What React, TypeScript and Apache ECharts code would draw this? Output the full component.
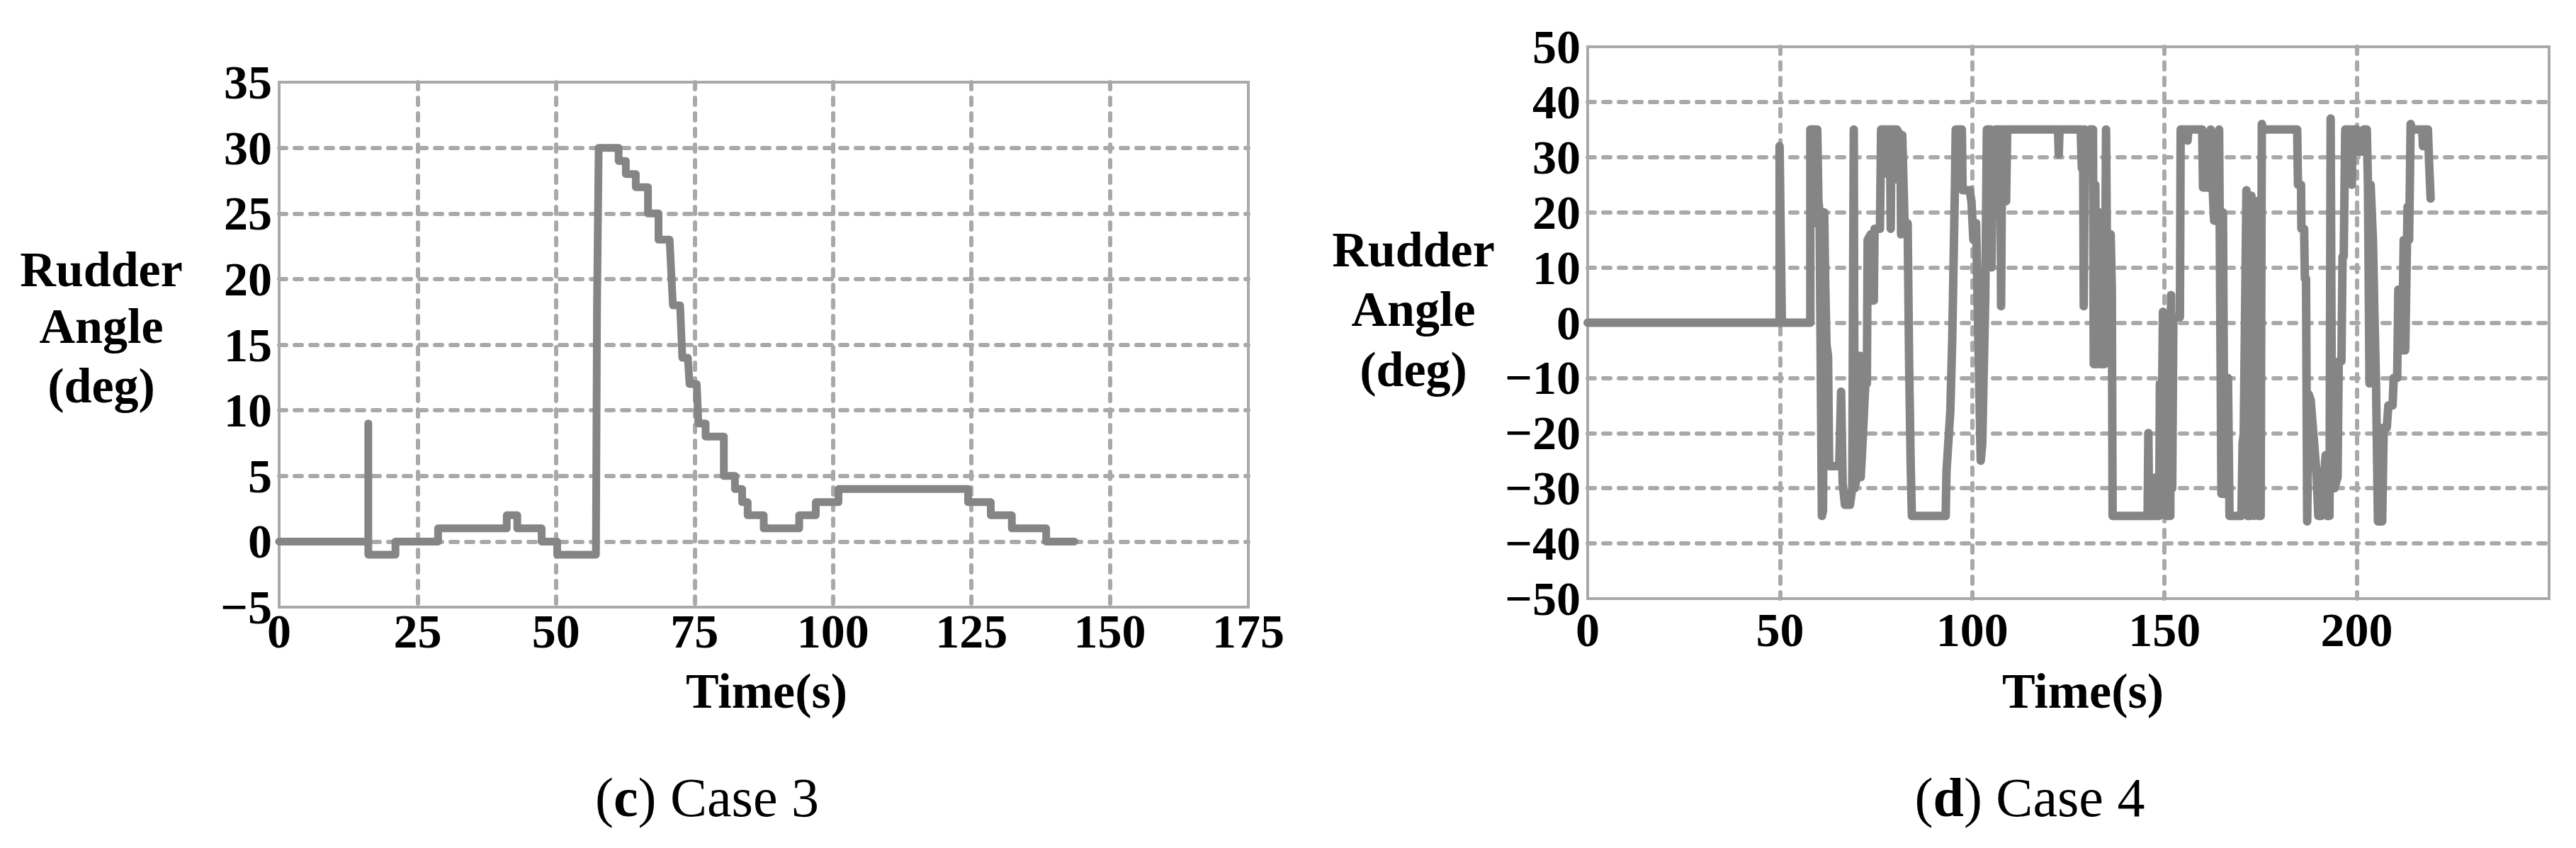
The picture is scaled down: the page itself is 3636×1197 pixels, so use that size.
import React, { useEffect, useRef } from "react";
import * as echarts from "echarts";

const FONT = '"Liberation Serif", "Times New Roman", serif';

// ---- Case 3 data (time s, rudder angle deg) ----
const caseC: [number, number][] = [
  [0, 0], [16.1, 0], [16.1, 9], [16.1, -1], [21.0, -1], [21.0, 0], [28.7, 0], [28.7, 1],
  [41.1, 1], [41.1, 2], [43.0, 2], [43.0, 1], [47.4, 1], [47.4, 0], [50.2, 0], [50.2, -1],
  [57.2, -1], [57.4, 18], [57.7, 30], [61.3, 30], [61.3, 29], [62.6, 29], [62.6, 28],
  [64.4, 28], [64.4, 27], [66.6, 27], [66.6, 25], [68.5, 25], [68.5, 23], [70.5, 23],
  [71.1, 18], [72.4, 18], [72.8, 14], [73.8, 14], [74.1, 12], [75.4, 12], [75.7, 9],
  [77.0, 9], [77.0, 8], [80.3, 8], [80.3, 5], [82.3, 5], [82.3, 4], [83.6, 4], [83.6, 3],
  [84.6, 3], [84.6, 2], [87.5, 2], [87.5, 1], [93.9, 1], [93.9, 2], [96.9, 2], [96.9, 3],
  [101.0, 3], [101.0, 4], [124.4, 4], [124.4, 3], [128.5, 3], [128.5, 2], [132.3, 2],
  [132.3, 1], [138.5, 1], [138.5, 0], [143.6, 0],
];

// ---- Case 4 data (time s, rudder angle deg) ----
const caseD: [number, number][] = [
  [0, 0], [49.9, 0], [49.9, 32], [50.4, 5], [50.5, 0], [57.9, 0], [57.9, 35], [59.3, 35],
  [59.5, 18], [59.7, 35], [60.0, 22], [60.3, 20], [60.9, -35], [61.2, -34], [61.5, 20],
  [61.8, 6], [62.1, -4], [62.5, -6], [62.8, -26], [65.4, -26], [65.9, -12.5], [66.3, -29],
  [66.9, -33], [68.2, -33], [68.8, -30], [69.2, 35], [69.4, -30], [70.0, -28], [70.3, -8],
  [70.8, -6], [71.0, -28], [71.6, -20], [72.2, -11], [72.6, -11], [72.8, 15], [73.6, 16],
  [73.9, 4], [74.4, 4], [74.6, 17], [76.0, 17], [76.3, 35], [77.5, 35], [77.7, 27],
  [77.9, 35], [78.6, 35], [78.8, 17], [79.0, 35], [80.0, 35], [80.2, 26], [80.4, 35],
  [81.3, 34], [81.5, 16], [81.8, 34], [82.4, 18], [83.2, 18], [83.6, -8], [84.0, -26],
  [84.3, -35], [93.1, -35], [93.3, -27], [94.3, -16], [94.8, -3], [95.5, 25], [95.7, 35],
  [97.3, 35], [97.5, 24], [99.3, 24], [99.8, 22], [100.3, 15], [101.0, 18], [102.2, -25],
  [102.6, -22], [103.4, 5], [103.8, 35], [104.8, 35], [105.0, 10], [105.4, 30], [106.0, 35],
  [107.3, 35], [107.5, 3], [107.8, 35], [108.6, 35], [108.8, 22], [109.1, 35], [122.3, 35],
  [122.5, 30.5], [122.7, 35], [128.2, 35], [128.5, 28], [128.8, 35], [129.0, 3], [129.3, 35],
  [130.2, 28], [130.6, 35], [131.4, 35], [131.6, -7.5], [132.0, 25], [132.4, -7.5],
  [133.0, 20], [133.4, -7.5], [134.4, -7.5], [134.8, 35], [135.0, 16], [136.0, 16],
  [136.3, 6], [136.5, -35], [145.6, -35], [145.8, -20], [146.0, -35], [147.6, -35],
  [147.8, -28], [148.0, -35], [148.6, -35], [148.8, -11], [149.4, -11], [149.6, 2],
  [150.0, -20], [150.5, -35], [151.5, -35], [151.7, 5], [152.0, -30], [152.3, 1], [154.0, 1],
  [154.2, 35], [155.8, 35], [156.0, 33], [156.2, 35], [159.8, 35], [160.0, 24.5],
  [161.8, 24.5], [162.0, 35], [162.5, 24.5], [162.9, 18.5], [163.8, 18.5], [164.2, 35],
  [164.8, -31], [165.2, 20], [165.6, -31], [166.5, -10], [166.9, -35], [170.0, -35],
  [170.3, -22], [170.6, -20], [171.3, 24], [171.6, -35], [172.2, -35], [172.6, 23],
  [172.9, -20], [173.3, -35], [174.0, 22], [174.4, -35], [175.0, -35], [175.3, 36],
  [175.6, 35], [184.5, 35], [184.7, 25], [185.5, 25], [185.6, 17], [186.3, 17], [186.5, 8],
  [186.8, 8], [187.1, -36], [187.5, -13], [188.0, -14], [189.5, -27], [190.0, -35],
  [190.8, -35], [191.0, -27], [191.6, -27], [191.9, -24], [192.3, -35], [192.9, -35],
  [193.2, 37], [193.6, -30], [194.2, -30], [195.0, -28], [195.3, -7], [196.0, -7],
  [196.3, 12], [196.6, 12], [196.8, 24], [197.0, 35], [198.5, 35], [198.7, 25], [198.9, 35],
  [200.0, 35], [200.3, 31], [201.5, 31], [201.8, 35], [202.6, 35], [202.9, 25], [203.3, -11],
  [203.6, 25], [204.2, 15], [204.6, 1], [205.0, -11], [205.5, -36], [206.6, -36],
  [207.0, -19], [207.8, -19], [208.2, -15], [209.3, -15], [209.6, -10], [210.5, -10],
  [210.8, 6], [211.0, -5], [211.8, -5], [212.2, 15], [212.6, -5], [213.2, 21], [213.6, 15],
  [214.0, 36], [214.4, 35], [217.0, 35], [217.2, 32], [217.5, 35], [218.5, 35], [218.8, 29],
  [219.2, 22.5],
];

// ---- Axis ticks ----
const caseCXTicks = [0, 25, 50, 75, 100, 125, 150, 175];
const caseCYTicks = [-5, 0, 5, 10, 15, 20, 25, 30, 35];
const caseDXTicks = [0, 50, 100, 150, 200, 250];
const caseDYTicks = [-50, -40, -30, -20, -10, 0, 10, 20, 30, 40, 50];

const yLabelLines = ["Rudder", "Angle", "(deg)"];
const xName = "Time(s)";
const captions = [
  { tag: "c", text: " Case 3" },
  { tag: "d", text: " Case 4" },
];

const fmt = (v: number) => (v < 0 ? "\u2212" + Math.abs(v) : String(v));

const LINE = "#858585";
const GRID = "#a9a9a9";
const TICK_FS = 68;

function axisPair(xt: number[], yt: number[], idx: number, hideLastX: boolean, xMargin: number) {
  const split = {
    show: true,
    showMinLine: false,
    showMaxLine: false,
    lineStyle: { color: GRID, width: 6, type: [10, 12], cap: "round" },
  };
  const x = {
    type: "value",
    gridIndex: idx,
    min: xt[0],
    max: xt[xt.length - 1],
    interval: xt[1] - xt[0],
    axisLine: { show: false },
    axisTick: { show: false },
    axisLabel: {
      fontFamily: FONT,
      fontWeight: "bold",
      fontSize: TICK_FS,
      color: "#000",
      margin: xMargin,
      showMaxLabel: !hideLastX,
      formatter: fmt,
    },
    splitLine: split,
  };
  const y = {
    type: "value",
    gridIndex: idx,
    min: yt[0],
    max: yt[yt.length - 1],
    interval: yt[1] - yt[0],
    axisLine: { show: false },
    axisTick: { show: false },
    axisLabel: {
      fontFamily: FONT,
      fontWeight: "bold",
      fontSize: TICK_FS,
      color: "#000",
      margin: 10,
      formatter: fmt,
    },
    splitLine: split,
  };
  return { x, y };
}

export default function App() {
  const ref = useRef<HTMLDivElement>(null);
  useEffect(() => {
    if (!ref.current) return;
    const chart = echarts.init(ref.current, null, { renderer: "svg" });
    const a = axisPair(caseCXTicks, caseCYTicks, 0, false, 0);
    const b = axisPair(caseDXTicks, caseDYTicks, 1, true, 10);

    const textEl = (text: string, x: number, y: number, size: number) => ({
      type: "text",
      x,
      y,
      style: {
        text,
        fontFamily: FONT,
        fontWeight: "bold",
        fontSize: size,
        fill: "#000",
        align: "center",
        verticalAlign: "middle",
      },
    });

    const yLabelC = [380, 460, 544];
    const yLabelD = [352, 436, 521];

    const graphics: any[] = [];
    yLabelLines.forEach((t, i) => {
      graphics.push(textEl(t, 143, yLabelC[i], 70));
      graphics.push(textEl(t, 1995, yLabelD[i], 70));
    });
    graphics.push(textEl(xName, 1082, 975, 70));
    graphics.push(textEl(xName, 2940, 975, 70));
    const capX = [998, 2865];
    captions.forEach((c, i) => {
      graphics.push({
        type: "text",
        x: capX[i],
        y: 1125,
        style: {
          text: "{n|(}{b|" + c.tag + "}{n|)" + c.text + "}",
          align: "center",
          verticalAlign: "middle",
          rich: {
            n: { fontFamily: FONT, fontSize: 78, fill: "#000", fontWeight: "normal" },
            b: { fontFamily: FONT, fontSize: 78, fill: "#000", fontWeight: "bold" },
          },
        },
      });
    });

    chart.setOption({
      animation: false,
      backgroundColor: "#ffffff",
      grid: [
        { left: 394, top: 116, width: 1368, height: 741, show: true, borderColor: GRID, borderWidth: 4, backgroundColor: "transparent" },
        { left: 2241, top: 66, width: 1357, height: 779, show: true, borderColor: GRID, borderWidth: 4, backgroundColor: "transparent" },
      ],
      xAxis: [a.x, b.x],
      yAxis: [a.y, b.y],
      series: [
        {
          type: "line",
          xAxisIndex: 0,
          yAxisIndex: 0,
          data: caseC,
          showSymbol: false,
          symbol: "none",
          lineStyle: { color: LINE, width: 11, cap: "round", join: "round" },
          z: 3,
        },
        {
          type: "line",
          xAxisIndex: 1,
          yAxisIndex: 1,
          data: caseD,
          showSymbol: false,
          symbol: "none",
          lineStyle: { color: LINE, width: 12, cap: "round", join: "round" },
          z: 3,
        },
      ],
      graphic: graphics,
    });
    return () => chart.dispose();
  }, []);
  return (
    <div
      ref={ref}
      style={{ position: "fixed", left: 0, top: 0, width: 3636, height: 1197, background: "#fff" }}
    />
  );
}
